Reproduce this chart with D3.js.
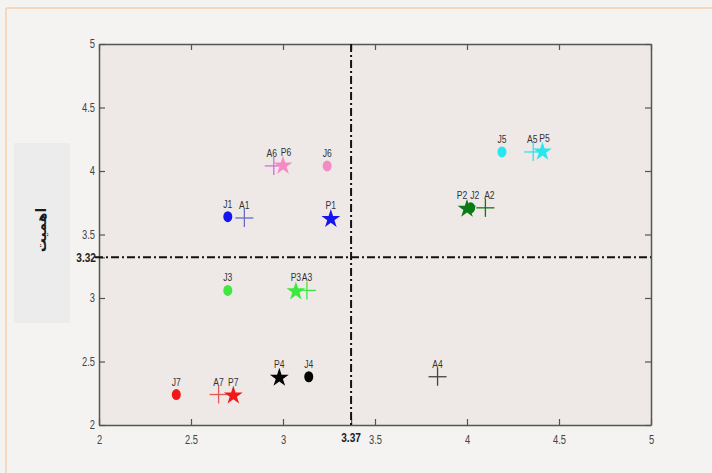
<!DOCTYPE html>
<html>
<head>
<meta charset="utf-8">
<script src="https://cdn.jsdelivr.net/npm/d3@7"></script>
<style>
  body { margin: 0; background: #f4f3f1; }
  svg { display: block; }
</style>
</head>
<body>
<div id="chart"></div>
<script>
var svgWidth = 712;
var svgHeight = 473;

// plot frame in page pixels
var margin = { top: 44, right: 61, bottom: 48, left: 99 };
var width = svgWidth - margin.left - margin.right;
var height = svgHeight - margin.top - margin.bottom;

// data
var jLabels = ["J1", "J2", "J3", "J4", "J5", "J6", "J7"];
var jX = [2.70, 4.02, 2.70, 3.14, 4.19, 3.24, 2.42];
var jY = [3.64, 3.71, 3.06, 2.38, 4.15, 4.04, 2.24];

var aLabels = ["A1", "A2", "A3", "A4", "A5", "A6", "A7"];
var aX = [2.79, 4.10, 3.13, 3.84, 4.36, 2.95, 2.65];
var aY = [3.63, 3.71, 3.06, 2.38, 4.15, 4.04, 2.24];

var pLabels = ["P1", "P2", "P3", "P4", "P5", "P6", "P7"];
var pX = [3.26, 4.00, 3.07, 2.98, 4.41, 3.00, 2.73];
var pY = [3.63, 3.71, 3.06, 2.38, 4.16, 4.05, 2.24];

var groupColors = ["#1515f0", "#0b7a14", "#3ee83e", "#050505", "#27e6ee", "#f48cc4", "#f01818"];
var plusColors = ["#6a6ac8", "#0b7a14", "#3ee83e", "#444444", "#27e6ee", "#d86cd8", "#e05a5a"];

var xTicks = [2, 2.5, 3, 3.5, 4, 4.5, 5];
var yTicks = [2, 2.5, 3, 3.5, 4, 4.5, 5];
var xMean = 3.37;
var yMean = 3.32;
var yTitle = "اهمیت";

var svg = d3.select("#chart")
  .append("svg")
  .attr("width", svgWidth)
  .attr("height", svgHeight);

// page background + peach frame
svg.append("rect")
  .attr("x", 0).attr("y", 0)
  .attr("width", svgWidth).attr("height", svgHeight)
  .attr("fill", "#f4f3f1");
svg.append("line")
  .attr("x1", 6).attr("x2", svgWidth).attr("y1", 8).attr("y2", 8)
  .attr("stroke", "#f6d8bd").attr("stroke-width", 2);
svg.append("line")
  .attr("x1", 6).attr("x2", 6).attr("y1", 8).attr("y2", svgHeight)
  .attr("stroke", "#f6d8bd").attr("stroke-width", 2);

// grey box holding the y title
svg.append("rect")
  .attr("x", 14).attr("y", 143)
  .attr("width", 56).attr("height", 180)
  .attr("fill", "#ececec");
svg.append("text")
  .attr("transform", "translate(46, 230) rotate(-90)")
  .attr("text-anchor", "middle")
  .attr("direction", "rtl")
  .style("font-family", "DejaVu Sans")
  .style("font-weight", "bold")
  .style("font-size", "14px")
  .style("fill", "#1a1a1a")
  .text(yTitle);

var chartGroup = svg.append("g")
  .attr("transform", `translate(${margin.left}, ${margin.top})`);

var xLinearScale = d3.scaleLinear().domain([2, 5]).range([0, width]);
var yLinearScale = d3.scaleLinear().domain([2, 5]).range([height, 0]);

chartGroup.append("rect")
  .attr("width", width).attr("height", height)
  .attr("fill", "#eee8e7");

var tickFont = "'Liberation Sans', Arial, sans-serif";
var squeeze = 0.78; // narrow look of the original labels

// axes with inward ticks on all four sides
function styleAxis(g) {
  g.select(".domain").attr("stroke", "#555").attr("stroke-width", 1.5);
  g.selectAll(".tick line").attr("stroke", "#555").attr("stroke-width", 1.2);
  g.selectAll(".tick text")
    .style("font-family", tickFont)
    .style("font-size", "12px")
    .style("fill", "#444");
}

var bottomAxis = d3.axisBottom(xLinearScale).tickValues(xTicks.concat([xMean]))
  .tickSizeInner(-6).tickSizeOuter(0).tickPadding(10)
  .tickFormat(d => d === xMean ? "" : d3.format("")(d));
chartGroup.append("g")
  .attr("transform", `translate(0, ${height})`)
  .call(bottomAxis)
  .call(styleAxis)
  .selectAll(".tick text")
  .attr("transform", `scale(${squeeze}, 1)`);

var topAxis = d3.axisTop(xLinearScale).tickValues(xTicks.concat([xMean]))
  .tickSizeInner(-6).tickSizeOuter(0).tickFormat("");
chartGroup.append("g").call(topAxis).call(styleAxis);

var leftAxis = d3.axisLeft(yLinearScale).tickValues(yTicks.concat([yMean]))
  .tickSizeInner(-6).tickSizeOuter(0).tickPadding(4)
  .tickFormat(d => d === yMean ? "" : d3.format("")(d));
chartGroup.append("g").call(leftAxis).call(styleAxis)
  .selectAll(".tick text")
  .attr("x", null)
  .attr("transform", `translate(-4, 0) scale(${squeeze}, 1)`);

var rightAxis = d3.axisRight(yLinearScale).tickValues(yTicks)
  .tickSizeInner(-6).tickSizeOuter(0).tickFormat("");
chartGroup.append("g")
  .attr("transform", `translate(${width}, 0)`)
  .call(rightAxis).call(styleAxis);

// bold labels for the mean values
chartGroup.append("text")
  .attr("transform", `translate(${xLinearScale(xMean)}, ${height + 17}) scale(${squeeze}, 1)`)
  .attr("text-anchor", "middle")
  .style("font-family", tickFont)
  .style("font-weight", "bold")
  .style("font-size", "13px")
  .style("fill", "#222")
  .text("3.37");
chartGroup.append("text")
  .attr("transform", `translate(-3, ${yLinearScale(yMean) + 4.5}) scale(${squeeze}, 1)`)
  .attr("text-anchor", "end")
  .style("font-family", tickFont)
  .style("font-weight", "bold")
  .style("font-size", "13px")
  .style("fill", "#222")
  .text("3.32");

// dash-dot mean lines
chartGroup.append("line")
  .attr("x1", xLinearScale(xMean)).attr("x2", xLinearScale(xMean))
  .attr("y1", 0).attr("y2", height)
  .attr("stroke", "#111").attr("stroke-width", 2)
  .attr("stroke-dasharray", "8,3,2,3");
chartGroup.append("line")
  .attr("x1", -4).attr("x2", width)
  .attr("y1", yLinearScale(yMean)).attr("y2", yLinearScale(yMean))
  .attr("stroke", "#111").attr("stroke-width", 2)
  .attr("stroke-dasharray", "8,3,2,3");

var aData = aLabels.map((l, i) => ({ label: l, x: aX[i], y: aY[i], color: plusColors[i] }));
var jData = jLabels.map((l, i) => ({ label: l, x: jX[i], y: jY[i], color: groupColors[i] }));
var pData = pLabels.map((l, i) => ({ label: l, x: pX[i], y: pY[i], color: groupColors[i] }));

// A: plus signs
var plusGroup = chartGroup.selectAll(".plus")
  .data(aData)
  .enter()
  .append("g")
  .attr("transform", d => `translate(${xLinearScale(d.x)}, ${yLinearScale(d.y)})`);
plusGroup.append("line")
  .attr("x1", -9).attr("x2", 9)
  .attr("stroke", d => d.color).attr("stroke-width", 1.3);
plusGroup.append("line")
  .attr("y1", -9).attr("y2", 9)
  .attr("stroke", d => d.color).attr("stroke-width", 1.3);

// J: filled circles
chartGroup.selectAll(".dot")
  .data(jData)
  .enter()
  .append("ellipse")
  .attr("cx", d => xLinearScale(d.x))
  .attr("cy", d => yLinearScale(d.y))
  .attr("rx", 4.5)
  .attr("ry", 5.5)
  .attr("fill", d => d.color);

// P: stars
var star = d3.symbol().type(d3.symbolStar).size(110);
chartGroup.selectAll(".star")
  .data(pData)
  .enter()
  .append("path")
  .attr("d", star)
  .attr("transform", d => `translate(${xLinearScale(d.x)}, ${yLinearScale(d.y) + 1})`)
  .attr("fill", d => d.color);

// point labels; crowded neighbours are spread a little as in the original
var nudge = { P2: -5, J2: 4, A2: 4, A5: -1, P5: 2, A6: -2, P6: 3 };
var allData = jData.concat(aData, pData);
chartGroup.selectAll(".lbl")
  .data(allData)
  .enter()
  .append("text")
  .attr("transform", d => `translate(${xLinearScale(d.x) + (nudge[d.label] || 0)}, ${yLinearScale(d.y) - 9}) scale(${squeeze}, 1)`)
  .attr("text-anchor", "middle")
  .style("font-family", tickFont)
  .style("font-size", "11px")
  .style("fill", "#333")
  .text(d => d.label);
</script>
</body>
</html>
